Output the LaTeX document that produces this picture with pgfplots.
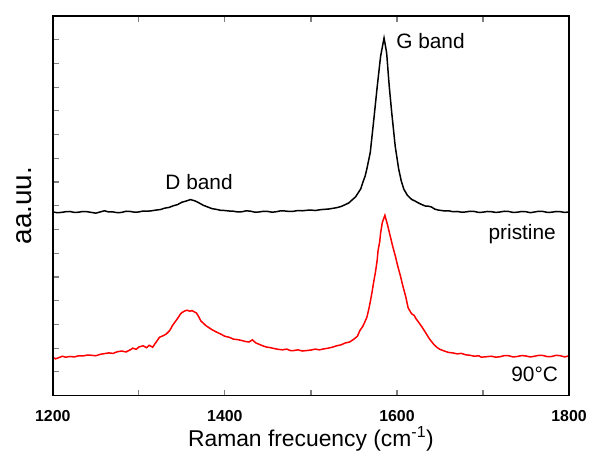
\documentclass[border=0pt]{standalone}
\usepackage{fontspec}
\setmainfont{Liberation Sans}
\usepackage{pgfplots}
\pgfplotsset{compat=1.18}
\pgfplotstableread{
x y
1200 7.74
1205 7.71
1210 7.72
1215 7.75
1220 7.76
1225 7.72
1230 7.73
1235 7.76
1240 7.75
1245 7.72
1250 7.69
1255 7.74
1260 7.79
1265 7.74
1270 7.74
1275 7.71
1280 7.72
1285 7.77
1290 7.76
1295 7.73
1300 7.74
1305 7.78
1310 7.77
1315 7.79
1320 7.82
1325 7.84
1330 7.90
1335 7.93
1340 8.00
1345 8.05
1350 8.15
1355 8.20
1360 8.26
1365 8.21
1370 8.12
1375 8.02
1380 7.95
1385 7.88
1390 7.85
1395 7.81
1400 7.80
1405 7.78
1410 7.77
1415 7.74
1420 7.75
1425 7.79
1430 7.77
1435 7.73
1440 7.74
1445 7.77
1450 7.76
1455 7.73
1460 7.75
1465 7.79
1470 7.78
1475 7.76
1480 7.77
1485 7.80
1490 7.79
1495 7.81
1500 7.82
1505 7.80
1510 7.83
1515 7.85
1520 7.86
1525 7.89
1530 7.92
1535 7.97
1540 8.05
1544 8.12
1548 8.25
1552 8.38
1555 8.55
1558 8.72
1560 8.95
1563 9.25
1565 9.55
1569 10.25
1573 11.6
1577 13.0
1581 14.3
1585 15.07
1588 14.45
1591 13.05
1594 11.9
1598 10.5
1602 9.55
1605 9.05
1608 8.70
1612 8.45
1617 8.27
1621 8.20
1625 8.12
1629 8.05
1633 7.99
1637 7.98
1640 7.95
1644 7.86
1648 7.82
1652 7.80
1656 7.78
1660 7.79
1665 7.75
1670 7.76
1675 7.73
1680 7.74
1685 7.77
1690 7.76
1695 7.72
1700 7.73
1705 7.76
1710 7.75
1715 7.72
1720 7.74
1725 7.77
1730 7.76
1735 7.72
1740 7.73
1745 7.76
1750 7.75
1755 7.71
1760 7.74
1765 7.77
1770 7.76
1775 7.72
1780 7.73
1785 7.76
1790 7.75
1795 7.72
1800 7.74
}\pristine
\pgfplotstableread{
x y
1200 1.62
1203 1.55
1207 1.60
1211 1.66
1215 1.62
1220 1.65
1225 1.63
1230 1.68
1235 1.67
1240 1.71
1245 1.70
1250 1.68
1255 1.74
1260 1.77
1265 1.80
1270 1.78
1275 1.85
1280 1.88
1285 1.84
1290 1.93
1293 2.00
1297 1.95
1300 2.05
1305 2.10
1309 2.02
1312 2.12
1316 2.04
1320 2.25
1324 2.46
1328 2.52
1332 2.60
1336 2.75
1339 2.95
1342 3.10
1345 3.25
1348 3.42
1350 3.50
1353 3.56
1356 3.60
1359 3.56
1362 3.58
1365 3.52
1367 3.48
1370 3.30
1372 3.15
1375 3.05
1378 2.95
1382 2.85
1385 2.78
1389 2.70
1392 2.65
1396 2.58
1400 2.50
1405 2.46
1410 2.38
1415 2.36
1420 2.32
1424 2.28
1428 2.26
1432 2.35
1436 2.22
1440 2.16
1444 2.10
1448 2.05
1453 2.02
1458 1.98
1462 1.95
1467 1.93
1472 1.96
1476 1.90
1480 1.90
1485 1.93
1490 1.88
1495 1.90
1500 1.92
1505 1.96
1510 1.93
1515 1.97
1520 2.00
1525 2.04
1530 2.10
1535 2.14
1540 2.22
1545 2.26
1550 2.38
1554 2.50
1557 2.75
1560 2.90
1562 3.05
1565 3.30
1567 3.60
1569 3.95
1571 4.35
1573 4.80
1575 5.20
1577 5.70
1578 6.10
1580 6.50
1581 6.85
1583 7.30
1586 7.60
1589 7.20
1592 6.75
1595 6.30
1598 5.90
1601 5.45
1604 5.05
1607 4.60
1610 4.20
1613 3.70
1617 3.45
1620 3.38
1622 3.25
1625 3.10
1628 2.95
1633 2.67
1638 2.38
1643 2.15
1647 2.02
1650 1.95
1655 1.88
1660 1.82
1665 1.80
1670 1.76
1675 1.78
1680 1.72
1685 1.70
1690 1.66
1695 1.68
1698 1.62
1704 1.64
1710 1.66
1715 1.62
1720 1.64
1725 1.69
1730 1.68
1735 1.63
1740 1.65
1745 1.69
1750 1.67
1755 1.63
1760 1.66
1765 1.70
1770 1.69
1775 1.64
1780 1.65
1785 1.70
1790 1.68
1795 1.63
1800 1.68
}\heated
\begin{document}
\begin{tikzpicture}
\begin{axis}[
  scale only axis, width=518bp, height=381bp,
  xmin=1200, xmax=1800, ymin=0, ymax=16,
  xtick={1200,1400,1600,1800}, xticklabels={1200,1400,1600,1800},
  minor xtick={1300,1500,1700},
  ytick={1,2,...,15}, yticklabels={},
  ytick pos=left,
  tick align=inside,
  major tick length=6bp, minor tick length=6bp,
  major tick style={line width=1.2bp},
  minor tick style={line width=1.2bp},
  axis line style={draw=black, line width=1.5bp},
  axis on top, clip=false,
  xticklabel style={font=\bfseries\fontsize{16}{16}\selectfont, yshift=-11bp},
  xlabel={Raman frecuency (cm\textsuperscript{-1})},
  xlabel style={font=\fontsize{23}{23}\selectfont, at={(axis description cs:0.5,-0.113)}, anchor=center},
  ylabel={aa.uu.},
  ylabel style={font=\fontsize{28}{28}\selectfont, at={(axis description cs:-0.056,0.5)}, anchor=center},
]
\addplot[black, line width=1.5bp] table {\pristine};
\addplot[red, line width=1.5bp] table {\heated};
% plot frame, drawn as a pgfplots path with many short segments
\addplot[black, line width=1.5bp, forget plot, line join=miter] coordinates {
(1200,0) (1250,0) (1300,0) (1350,0) (1400,0) (1450,0) (1500,0) (1550,0) (1600,0) (1650,0) (1700,0) (1750,0) (1800,0)
(1800,1) (1800,2) (1800,3) (1800,4) (1800,5) (1800,6) (1800,7) (1800,8) (1800,9) (1800,10) (1800,11) (1800,12) (1800,13) (1800,14) (1800,15) (1800,16)
(1750,16) (1700,16) (1650,16) (1600,16) (1550,16) (1500,16) (1450,16) (1400,16) (1350,16) (1300,16) (1250,16) (1200,16)
(1200,15) (1200,14) (1200,13) (1200,12) (1200,11) (1200,10) (1200,9) (1200,8) (1200,7) (1200,6) (1200,5) (1200,4) (1200,3) (1200,2) (1200,1) (1200,0)
};
\node[font=\fontsize{21}{21}\selectfont] at (axis cs:1370,8.99) {D band};
\node[font=\fontsize{21}{21}\selectfont] at (axis cs:1639,14.95) {G band};
\node[font=\fontsize{21}{21}\selectfont] at (axis cs:1745.6,6.82) {pristine};
\node[font=\fontsize{21}{21}\selectfont] at (axis cs:1760,0.9) {90°C};
\path (rel axis cs:0,0) ++(-53bp,-56bp) (rel axis cs:1,1) ++(19bp,16bp);
\end{axis}
\end{tikzpicture}
\end{document}
